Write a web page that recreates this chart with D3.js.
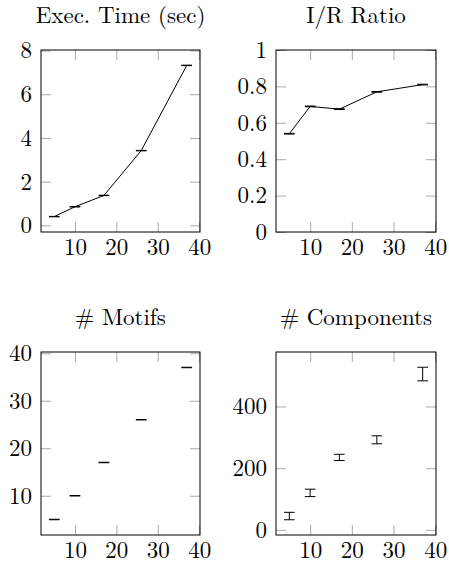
<!DOCTYPE html>
<html>
<head>
<meta charset="utf-8">
<script src="https://cdn.jsdelivr.net/npm/d3@7"></script>
<style>
  html, body { margin: 0; padding: 0; background: #fff; }
  svg { display: block; }
  text { font-family: "Latin Modern Roman", "Liberation Serif", serif; fill: #000; }
</style>
</head>
<body>
<svg id="chart" width="449" height="567"></svg>
<script>
// ---- data ----
const xValues = [5, 10, 17, 26, 37];
const xTicks = [10, 20, 30, 40];

const execTime = [0.4, 0.85, 1.37, 3.42, 7.32];
const execTimeErr = [0.01, 0.01, 0.01, 0.01, 0.01];
const execTicks = [0, 2, 4, 6, 8];

const irRatio = [0.54, 0.69, 0.675, 0.77, 0.81];
const irRatioErr = [0.002, 0.002, 0.002, 0.002, 0.002];
const irTicks = [0, 0.2, 0.4, 0.6, 0.8, 1];

const motifs = [5, 10, 17, 26, 37];
const motifsErr = [0.05, 0.05, 0.05, 0.05, 0.05];
const motifTicks = [10, 20, 30, 40];

const components = [45, 120, 235, 292, 505];
const componentsErr = [12, 12, 10, 13, 22];
const compTicks = [0, 200, 400];

const titles = ["Exec. Time (sec)", "I/R Ratio", "# Motifs", "# Components"];

// ---- layout ----
const panels = [
  { title: titles[0], vals: execTime, errs: execTimeErr, ticks: execTicks, line: true,  fixed: null,   box: { l: 41,  r: 200, t: 50,  b: 232 } },
  { title: titles[1], vals: irRatio,  errs: irRatioErr,  ticks: irTicks,   line: true,  fixed: [0, 1], box: { l: 276, r: 436, t: 50,  b: 232 } },
  { title: titles[2], vals: motifs,   errs: motifsErr,   ticks: motifTicks, line: false, fixed: null,  box: { l: 41,  r: 200, t: 352, b: 535 } },
  { title: titles[3], vals: components, errs: componentsErr, ticks: compTicks, line: false, fixed: null, box: { l: 276, r: 436, t: 352, b: 535 } }
];

const svg = d3.select("#chart");
const FONT = 23;
const TICK = 10;
const CAP = 5.3;
const FAMILY = '"Latin Modern Roman", "Liberation Serif", serif';

function enlarged(lo, hi) {
  const pad = 0.1 * (hi - lo);
  return [lo - pad, hi + pad];
}

const xDomain = enlarged(d3.min(xValues), d3.max(xValues));

panels.forEach(p => {
  const b = p.box;
  const x = d3.scaleLinear().domain(xDomain).range([b.l, b.r]);
  const lo = d3.min(p.vals.map((v, i) => v - p.errs[i]));
  const hi = d3.max(p.vals.map((v, i) => v + p.errs[i]));
  const y = d3.scaleLinear().domain(p.fixed || enlarged(lo, hi)).range([b.b, b.t]);

  const g = svg.append("g");

  const styleAxis = sel => {
    sel.select(".domain").remove();
    sel.selectAll(".tick line").attr("stroke", "#aaaaaa").attr("stroke-width", 1);
    sel.selectAll(".tick text").style("font-size", FONT + "px").style("font-family", FAMILY).attr("fill", "#000");
  };

  g.append("g").attr("transform", `translate(0,${b.b})`)
    .call(d3.axisBottom(x).tickValues(xTicks).tickSize(-TICK).tickPadding(7).tickFormat(d3.format("d")))
    .call(styleAxis);
  g.append("g").attr("transform", `translate(0,${b.t})`)
    .call(d3.axisTop(x).tickValues(xTicks).tickSize(-TICK).tickFormat(""))
    .call(styleAxis);
  g.append("g").attr("transform", `translate(${b.l},0)`)
    .call(d3.axisLeft(y).tickValues(p.ticks).tickSize(-TICK).tickPadding(9).tickFormat(d => String(d)))
    .call(styleAxis);
  g.append("g").attr("transform", `translate(${b.r},0)`)
    .call(d3.axisRight(y).tickValues(p.ticks).tickSize(-TICK).tickFormat(""))
    .call(styleAxis);

  // frame
  g.append("rect")
    .attr("x", b.l).attr("y", b.t)
    .attr("width", b.r - b.l).attr("height", b.b - b.t)
    .attr("fill", "none").attr("stroke", "#000").attr("stroke-width", 1);

  const pts = xValues.map((xv, i) => ({ x: xv, v: p.vals[i], e: p.errs[i] }));

  if (p.line) {
    g.append("path")
      .datum(pts)
      .attr("fill", "none").attr("stroke", "#000").attr("stroke-width", 1)
      .attr("d", d3.line().x(d => x(d.x)).y(d => y(d.v)));
  }

  // error bars
  const eb = g.selectAll(".eb").data(pts).enter().append("g").attr("class", "eb");
  eb.append("line")
    .attr("x1", d => x(d.x)).attr("x2", d => x(d.x))
    .attr("y1", d => y(d.v - d.e)).attr("y2", d => y(d.v + d.e))
    .attr("stroke", "#000").attr("stroke-width", 1);
  eb.append("line")
    .attr("x1", d => x(d.x) - CAP).attr("x2", d => x(d.x) + CAP)
    .attr("y1", d => y(d.v - d.e)).attr("y2", d => y(d.v - d.e))
    .attr("stroke", "#000").attr("stroke-width", 1);
  eb.append("line")
    .attr("x1", d => x(d.x) - CAP).attr("x2", d => x(d.x) + CAP)
    .attr("y1", d => y(d.v + d.e)).attr("y2", d => y(d.v + d.e))
    .attr("stroke", "#000").attr("stroke-width", 1);

  // title
  g.append("text")
    .attr("x", (b.l + b.r) / 2)
    .attr("y", b.t - 27)
    .attr("text-anchor", "middle")
    .style("font-size", FONT + "px")
    .text(p.title);
});
</script>
</body>
</html>
